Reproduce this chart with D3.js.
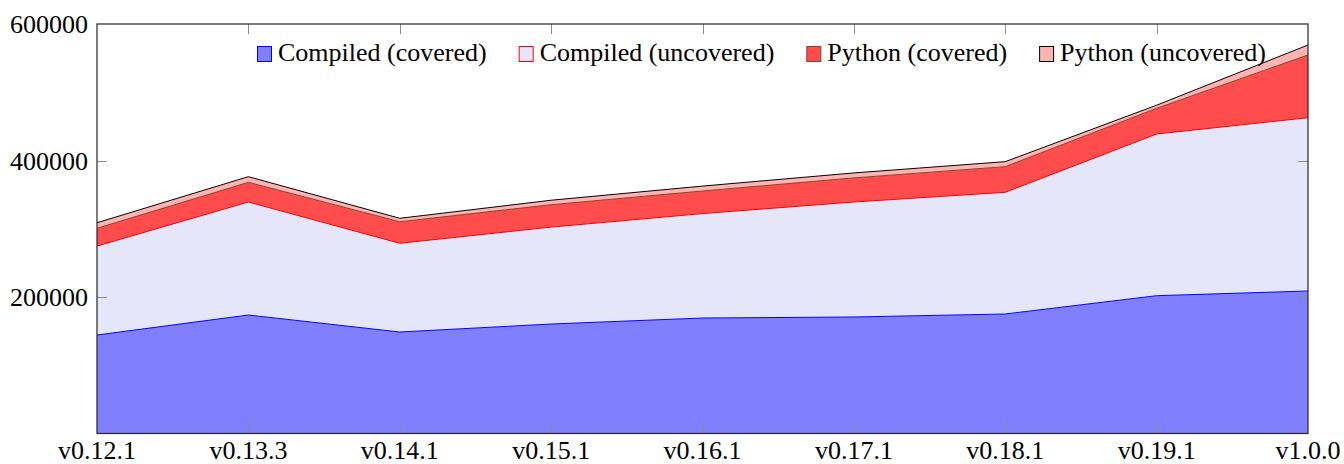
<!DOCTYPE html>
<html>
<head>
<meta charset="utf-8">
<script src="https://cdn.jsdelivr.net/npm/d3@7"></script>
<style>
  body { margin: 0; background: #fff; }
  svg { display: block; font-family: "Liberation Serif", "DejaVu Serif", serif; }
</style>
</head>
<body>
<script>
const versions = ["v0.12.1", "v0.13.3", "v0.14.1", "v0.15.1", "v0.16.1", "v0.17.1", "v0.18.1", "v0.19.1", "v1.0.0"]
const compiledCovered   = [144300, 173600, 148700, 160400, 169200, 170700, 175100, 201900, 208800]
const compiledUncovered = [130400, 165600, 130000, 142000, 153000, 168500, 178300, 236900, 253900]
const pythonCovered     = [25900, 28800, 31600, 32800, 33100, 35300, 37600, 37700, 91900]
const pythonUncovered   = [8200, 8300, 5000, 6600, 7200, 7300, 7300, 4500, 14600]
const yTicks = [200000, 400000, 600000]

const seriesNames = ["Compiled (covered)", "Compiled (uncovered)", "Python (covered)", "Python (uncovered)"]
const seriesFill   = ["#8080ff", "#e6e6fb", "#ff4d4d", "#ffb3b3"]
const seriesStroke = ["#0000ff", "#ff0000", "#80462a", "#000000"]

const width = 1344, height = 464
const margin = { top: 24, right: 36, bottom: 30.5, left: 97 }

const rows = versions.map((v, i) => ({
  version: v,
  cc: compiledCovered[i],
  cu: compiledUncovered[i],
  pc: pythonCovered[i],
  pu: pythonUncovered[i]
}))
const keys = ["cc", "cu", "pc", "pu"]
const stacked = d3.stack().keys(keys)(rows)

const svg = d3.select("body").append("svg")
  .attr("width", width)
  .attr("height", height)

const x = d3.scalePoint()
  .domain(versions)
  .range([margin.left, width - margin.right])

const y = d3.scaleLinear()
  .domain([0, 600000])
  .range([height - margin.bottom, margin.top])

const area = d3.area()
  .x(d => x(d.data.version))
  .y0(d => y(d[0]))
  .y1(d => y(d[1]))

const topLine = d3.line()
  .x(d => x(d.data.version))
  .y(d => y(d[1]))

const gArea = svg.append("g").attr("class", "areas")

gArea.selectAll("path.fill")
  .data(stacked)
  .join("path")
    .attr("class", "fill")
    .attr("fill", (d, i) => seriesFill[i])
    .attr("d", area)

gArea.selectAll("path.edge")
  .data(stacked)
  .join("path")
    .attr("class", "edge")
    .attr("fill", "none")
    .attr("stroke", (d, i) => seriesStroke[i])
    .attr("stroke-width", 1)
    .attr("d", topLine)

// ticks pointing inward, on all four sides
const tickLen = 10
const x0 = margin.left, x1 = width - margin.right
const y0 = height - margin.bottom, y1 = margin.top
const gTicks = svg.append("g")
  .attr("stroke", "#8c8c8c")
  .attr("stroke-width", 1)

versions.slice(1, -1).forEach(v => {
  const px = Math.round(x(v)) + 0.5
  gTicks.append("line").attr("x1", px).attr("x2", px).attr("y1", y0).attr("y2", y0 - tickLen)
  gTicks.append("line").attr("x1", px).attr("x2", px).attr("y1", y1).attr("y2", y1 + tickLen)
})
yTicks.slice(0, -1).forEach(t => {
  const py = Math.round(y(t)) + 0.5
  gTicks.append("line").attr("x1", x0).attr("x2", x0 + tickLen).attr("y1", py).attr("y2", py)
  gTicks.append("line").attr("x1", x1).attr("x2", x1 - tickLen).attr("y1", py).attr("y2", py)
})

// frame
svg.append("rect")
  .attr("x", x0)
  .attr("y", y1)
  .attr("width", x1 - x0)
  .attr("height", y0 - y1)
  .attr("fill", "none")
  .attr("stroke", "#262626")
  .attr("stroke-width", 1.2)

// tick labels
svg.append("g")
  .selectAll("text")
  .data(versions)
  .join("text")
    .attr("x", d => x(d))
    .attr("y", height - 5)
    .attr("text-anchor", "middle")
    .attr("font-size", 26)
    .attr("fill", "#000")
    .text(d => d)

svg.append("g")
  .selectAll("text")
  .data(yTicks)
  .join("text")
    .attr("x", margin.left - 9)
    .attr("y", d => y(d) + 9)
    .attr("text-anchor", "end")
    .attr("font-size", 26)
    .attr("fill", "#000")
    .text(d => d)

// legend
const legend = svg.append("g").attr("class", "legend")
let lx = 257
seriesNames.forEach((name, i) => {
  legend.append("rect")
    .attr("x", lx + 0.5)
    .attr("y", 46.5)
    .attr("width", 14)
    .attr("height", 15)
    .attr("fill", seriesFill[i])
    .attr("stroke", seriesStroke[i])
  const t = legend.append("text")
    .attr("x", lx + 21)
    .attr("y", 61)
    .attr("font-size", 26)
    .attr("fill", "#000")
    .text(name)
  lx += 21 + t.node().getComputedTextLength() + 32
})
</script>
</body>
</html>
